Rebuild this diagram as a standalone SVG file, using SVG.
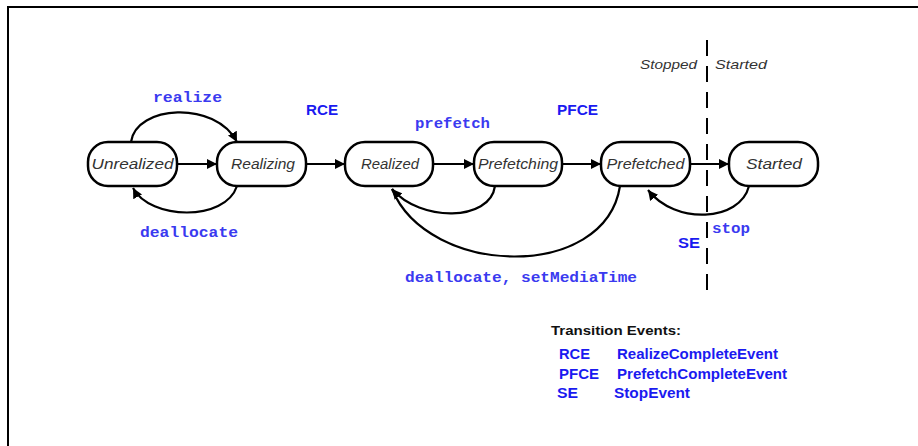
<svg xmlns="http://www.w3.org/2000/svg" width="918" height="446" viewBox="0 0 918 446">
<defs>
<marker id="ah" viewBox="0 0 10 10" refX="10" refY="5" markerWidth="10" markerHeight="10" markerUnits="userSpaceOnUse" orient="auto">
<path d="M0,0 L10,5 L0,10 z" fill="#000"/>
</marker>
<style>
.node rect{fill:#fff;stroke:#000;stroke-width:2.5}
.node text{font-family:"Liberation Sans",Arial,sans-serif;font-style:italic;font-size:14px;fill:#333;text-anchor:middle}
.conn path{fill:none;stroke:#000;stroke-width:2.2}
.lbl{font-family:"Liberation Mono","DejaVu Sans Mono",monospace;font-weight:bold;font-size:14px;fill:#3a3af0}
.ev{font-family:"Liberation Sans",Arial,sans-serif;font-weight:bold;font-size:14px;fill:#1a1af0}
.side{font-family:"Liberation Sans",Arial,sans-serif;font-style:italic;font-size:13px;fill:#333}
</style>
</defs>
<rect width="918" height="446" fill="#fff"/>
<path d="M8,446 V7 H918" fill="none" stroke="#000" stroke-width="2"/>
<line x1="707" y1="40" x2="707" y2="290" stroke="#000" stroke-width="2" stroke-dasharray="16,10"/>
<text class="side" x="640" y="69" textLength="57" lengthAdjust="spacingAndGlyphs">Stopped</text>
<text class="side" x="715" y="69" textLength="52" lengthAdjust="spacingAndGlyphs">Started</text>
<g id="n-unrealized" class="node"><rect x="88" y="142" width="89" height="44" rx="20"/><text x="132.5" y="169" textLength="82" lengthAdjust="spacingAndGlyphs">Unrealized</text></g>
<g id="n-realizing" class="node"><rect x="217" y="142" width="89" height="44" rx="20"/><text x="263" y="169" textLength="64" lengthAdjust="spacingAndGlyphs">Realizing</text></g>
<g id="n-realized" class="node"><rect x="345" y="142" width="88" height="44" rx="20"/><text x="390" y="169" textLength="58" lengthAdjust="spacingAndGlyphs">Realized</text></g>
<g id="n-prefetching" class="node"><rect x="474" y="142" width="88" height="44" rx="20"/><text x="518" y="169" textLength="80" lengthAdjust="spacingAndGlyphs">Prefetching</text></g>
<g id="n-prefetched" class="node"><rect x="601" y="142" width="89" height="44" rx="20"/><text x="645.5" y="169" textLength="78" lengthAdjust="spacingAndGlyphs">Prefetched</text></g>
<g id="n-started" class="node"><rect x="729" y="142" width="89" height="44" rx="20"/><text x="774" y="169" textLength="56" lengthAdjust="spacingAndGlyphs">Started</text></g>
<g id="connectors" class="conn">
<path d="M177,164 H217" marker-end="url(#ah)"/>
<path d="M306,164 H345" marker-end="url(#ah)"/>
<path d="M433,164 H474" marker-end="url(#ah)"/>
<path d="M562,164 H601" marker-end="url(#ah)"/>
<path d="M690,164 H729" marker-end="url(#ah)"/>
<path d="M131,142 C136,105 215,100 237,142" marker-end="url(#ah)"/>
<path d="M237,186 C225,222 150,220 133,188" marker-end="url(#ah)"/>
<path d="M495,186 C490,222 420,222 392,189" marker-end="url(#ah)"/>
<path d="M620,186 C605,282 428,277 392,189"/>
<path d="M749,186 C740,222 675,225 648,190" marker-end="url(#ah)"/>
</g>
<text class="lbl" x="153" y="102" textLength="69" lengthAdjust="spacingAndGlyphs">realize</text>
<text class="ev" x="306" y="115" textLength="32" lengthAdjust="spacingAndGlyphs">RCE</text>
<text class="lbl" x="415" y="128" textLength="75" lengthAdjust="spacingAndGlyphs">prefetch</text>
<text class="ev" x="557" y="115" textLength="41" lengthAdjust="spacingAndGlyphs">PFCE</text>
<text class="lbl" x="140" y="237" textLength="98" lengthAdjust="spacingAndGlyphs">deallocate</text>
<text class="lbl" x="405" y="282" textLength="232" lengthAdjust="spacingAndGlyphs">deallocate, setMediaTime</text>
<text class="lbl" x="712" y="233" textLength="38" lengthAdjust="spacingAndGlyphs">stop</text>
<text class="ev" x="678" y="248" textLength="22" lengthAdjust="spacingAndGlyphs">SE</text>
<g id="legend">
<text x="551" y="335" font-family="Liberation Sans,Arial,sans-serif" font-size="13" font-weight="bold" fill="#111" textLength="130" lengthAdjust="spacingAndGlyphs">Transition Events:</text>
<text class="ev" x="559" y="359" font-size="13" textLength="31" lengthAdjust="spacingAndGlyphs">RCE</text>
<text class="ev" x="617" y="359" font-size="13" textLength="161" lengthAdjust="spacingAndGlyphs">RealizeCompleteEvent</text>
<text class="ev" x="559" y="379" font-size="13" textLength="40" lengthAdjust="spacingAndGlyphs">PFCE</text>
<text class="ev" x="617" y="379" font-size="13" textLength="170" lengthAdjust="spacingAndGlyphs">PrefetchCompleteEvent</text>
<text class="ev" x="557" y="398" font-size="13" textLength="21" lengthAdjust="spacingAndGlyphs">SE</text>
<text class="ev" x="614" y="398" font-size="13" textLength="76" lengthAdjust="spacingAndGlyphs">StopEvent</text>
</g>
</svg>
